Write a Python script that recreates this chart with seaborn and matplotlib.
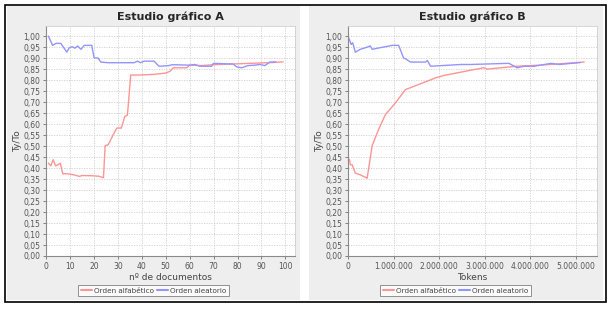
import pandas as pd
import seaborn as sns
import matplotlib.pyplot as plt
import matplotlib as mpl
from matplotlib.ticker import FuncFormatter, MultipleLocator
from matplotlib.patches import Rectangle

sns.set_style("white")
plt.rcParams['font.family'] = ['DejaVu Sans']

# --- Estudio grafico A (x = numero de documentos) ---
docsAlfa = [1, 2, 3, 4, 5, 6, 7, 9, 12, 14, 15, 19, 22, 24, 24.7, 26, 28, 29.6, 31.5, 32.9, 34, 35.4,
            39, 45, 50, 51.8, 53.2, 58.8, 60.1, 65, 70, 75, 80, 85, 90, 95, 99]
valAlfa = [0.422, 0.41, 0.438, 0.41, 0.415, 0.422, 0.374, 0.374, 0.368, 0.362, 0.366, 0.365, 0.363,
           0.356, 0.502, 0.506, 0.55, 0.582, 0.582, 0.635, 0.64, 0.823, 0.823, 0.826, 0.832, 0.84,
           0.856, 0.856, 0.868, 0.866, 0.87, 0.872, 0.874, 0.876, 0.878, 0.880, 0.883]
docsAlea = [1, 2.75, 4.2, 6.2, 8.7, 9.7, 11, 12.1, 13.2, 14.6, 16, 19.1, 20.1, 21.8, 22.9, 26, 30,
            36.8, 38.2, 39.5, 41, 45.1, 47.2, 51.4, 52.7, 60, 62.2, 64.3, 69.2, 69.9, 78.2, 79.6,
            81.7, 84.4, 87.2, 89.3, 91.4, 93.5, 96]
valAlea = [1.0, 0.958, 0.967, 0.967, 0.927, 0.947, 0.952, 0.945, 0.955, 0.94, 0.958, 0.958, 0.901,
           0.90, 0.882, 0.879, 0.879, 0.879, 0.886, 0.879, 0.886, 0.886, 0.863, 0.866, 0.87, 0.868,
           0.871, 0.863, 0.863, 0.876, 0.873, 0.86, 0.856, 0.866, 0.868, 0.871, 0.866, 0.882, 0.883]

# --- Estudio grafico B (x = tokens) ---
tokAlfa = [0, 30000, 50000, 90000, 160000, 270000, 420000, 530000, 670000, 820000, 1040000,
           1260000, 1300000, 1920000, 2100000, 2400000, 2690000, 2980000, 3050000, 3350000,
           3710000, 4200000, 4700000, 5180000]
valAlfaB = [0.425, 0.44, 0.415, 0.415, 0.377, 0.369, 0.354, 0.502, 0.575, 0.643, 0.696, 0.757,
            0.76, 0.81, 0.821, 0.833, 0.845, 0.856, 0.85, 0.856, 0.863, 0.868, 0.875, 0.882]
tokAlea = [0, 70000, 100000, 120000, 160000, 270000, 380000, 490000, 530000, 970000, 1110000,
           1220000, 1260000, 1370000, 1700000, 1740000, 1810000, 2070000, 2470000, 2690000,
           3490000, 3530000, 3710000, 3860000, 4080000, 4450000, 4630000, 5100000]
valAleaB = [1.0, 0.962, 0.97, 0.958, 0.927, 0.94, 0.947, 0.955, 0.94, 0.958, 0.958, 0.90, 0.897,
            0.882, 0.882, 0.889, 0.863, 0.866, 0.871, 0.871, 0.876, 0.876, 0.856, 0.863, 0.863,
            0.876, 0.871, 0.88]

labAlfa = "Orden alfabético"
labAlea = "Orden aleatorio"
palette = {labAlfa: "#ff9494", labAlea: "#9494ff"}

dfA = pd.concat([pd.DataFrame({"x": docsAlfa, "y": valAlfa, "serie": labAlfa}),
                 pd.DataFrame({"x": docsAlea, "y": valAlea, "serie": labAlea})], ignore_index=True)
dfB = pd.concat([pd.DataFrame({"x": tokAlfa, "y": valAlfaB, "serie": labAlfa}),
                 pd.DataFrame({"x": tokAlea, "y": valAleaB, "serie": labAlea})], ignore_index=True)

W, H = 613, 311
fig = plt.figure(figsize=(W / 100, H / 100), dpi=100)
fig.patch.set_facecolor("white")

def px(x0, y0, w, h):
   return [x0 / W, 1 - (y0 + h) / H, w / W, h / H]

# panel backgrounds and outer border
for x0, x1 in [(7, 300), (309, 603)]:
   fig.patches.append(Rectangle((x0 / W, 1 - 300 / H), (x1 - x0) / W, 294 / H,
                                transform=fig.transFigure, facecolor="#eeeeee",
                                edgecolor="none", zorder=-5))
fig.patches.append(Rectangle((5 / W, 1 - 302 / H), 601 / W, 297 / H, transform=fig.transFigure,
                             facecolor="none", edgecolor="black", lw=1.2, zorder=5))

axA = fig.add_axes(px(46, 26, 249, 230))
axB = fig.add_axes(px(348, 26, 249, 230))

sns.lineplot(data=dfA, x="x", y="y", hue="serie", palette=palette, ax=axA, lw=1.0,
             sort=False, estimator=None, legend=False)
sns.lineplot(data=dfB, x="x", y="y", hue="serie", palette=palette, ax=axB, lw=1.0,
             sort=False, estimator=None, legend=False)

commaFmt = FuncFormatter(lambda v, p: f"{v:.2f}".replace(".", ","))
tokFmt = FuncFormatter(lambda v, p: f"{int(round(v)):,}".replace(",", "."))

for ax, title, xlab in [(axA, "Estudio gráfico A", "nº de documentos"),
                        (axB, "Estudio gráfico B", "Tokens")]:
   ax.set_zorder(1)
   ax.set_facecolor("white")
   ax.set_ylim(0, 1.046)
   ax.yaxis.set_major_locator(MultipleLocator(0.05))
   ax.yaxis.set_major_formatter(commaFmt)
   ax.grid(True, color="#cfcfcf", ls=(0, (1.5, 1.5)), lw=0.6)
   for s in ["top", "right"]:
      ax.spines[s].set_color("#d0d0d0")
      ax.spines[s].set_linewidth(0.6)
   for s in ["left", "bottom"]:
      ax.spines[s].set_color("#8a8a8a")
      ax.spines[s].set_linewidth(0.8)
   ax.tick_params(labelsize=5.5, colors="#555555", length=2, width=0.5, pad=2, left=True,
                  bottom=True)
   ax.set_ylabel("Ty/To", fontsize=6.5, color="#444444", labelpad=1)
   ax.set_xlabel(xlab, fontsize=6.5, color="#444444", labelpad=1.5)
   ax.set_title(title, fontsize=8, fontweight="bold", pad=4)

axA.set_xlim(0, 104)
axA.xaxis.set_major_locator(MultipleLocator(10))
axB.set_xlim(0, 5460000)
axB.xaxis.set_major_locator(MultipleLocator(1000000))
axB.xaxis.set_major_formatter(tokFmt)

handles = [mpl.lines.Line2D([], [], color=palette[labAlfa], lw=1.5),
           mpl.lines.Line2D([], [], color=palette[labAlea], lw=1.5)]
for cx in [153.5 / W, 455.5 / W]:
   leg = fig.legend(handles, [labAlfa, labAlea], loc="center", bbox_to_anchor=(cx, 1 - 290.5 / H),
                    ncol=2, fontsize=5.2, frameon=True, fancybox=False, handlelength=1.5,
                    handletextpad=0.3, columnspacing=0.4, borderpad=0.35, labelcolor="#444444")
   leg.get_frame().set_edgecolor("#777777")
   leg.get_frame().set_linewidth(0.7)
   leg.set_zorder(3)

plt.savefig("out.png", dpi=100)
plt.close()
